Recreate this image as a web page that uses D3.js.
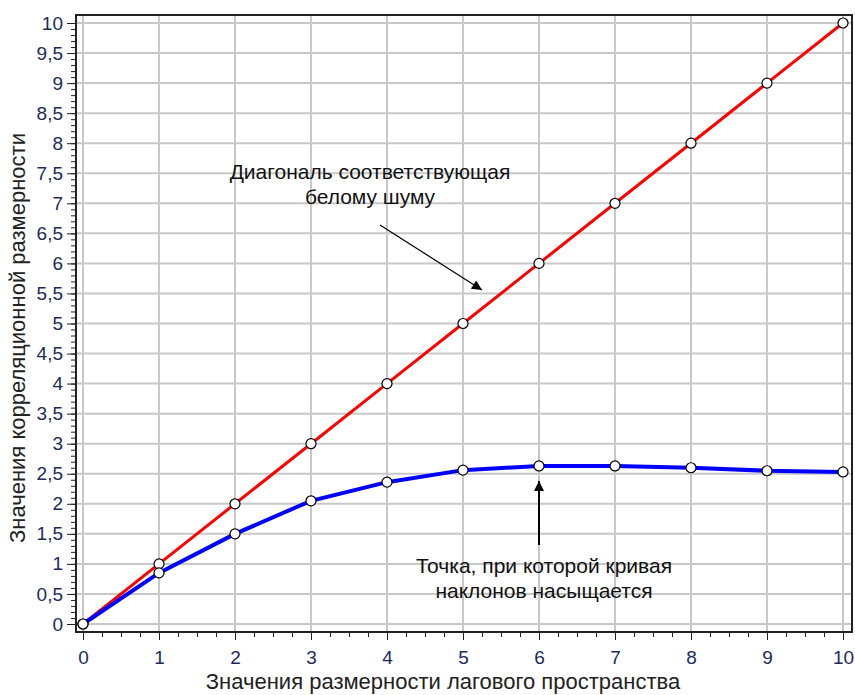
<!DOCTYPE html>
<html>
<head>
<meta charset="utf-8">
<script src="https://cdn.jsdelivr.net/npm/d3@7"></script>
<style>
  body { margin: 0; background: #fff; }
  text { font-family: "Liberation Sans", Arial, sans-serif; }
</style>
</head>
<body>
<div id="graph"></div>
<script>
var lagDims = [0, 1, 2, 3, 4, 5, 6, 7, 8, 9, 10],
  whiteNoise = [0, 1, 2, 3, 4, 5, 6, 7, 8, 9, 10],
  corrDims = [0, 0.85, 1.5, 2.05, 2.36, 2.56, 2.63, 2.63, 2.6, 2.55, 2.53],
  xTicks = [0, 1, 2, 3, 4, 5, 6, 7, 8, 9, 10],
  yTicks = d3.range(0, 10.01, 0.5),
  xTitle = "Значения размерности лагового пространства",
  yTitle = "Значения корреляционной размерности",
  noteDiag = ["Диагональ соответствующая", "белому шуму"],
  noteSat = ["Точка, при которой кривая", "наклонов насыщается"];

var width = 855,
  height = 695,
  frame = { left: 76, top: 15, right: 852, bottom: 632 };

var svg = d3.select("#graph").append("svg")
  .attr("width", width)
  .attr("height", height);

var x = d3.scaleLinear().domain([0, 10]).range([83, 843]),
  y = d3.scaleLinear().domain([0, 10]).range([624, 23]);

var fmt = function(d) { return String(+d.toFixed(1)).replace(".", ","); };

// grid
svg.append("g").selectAll("line").data(xTicks).join("line")
  .attr("x1", x).attr("x2", x)
  .attr("y1", frame.top).attr("y2", frame.bottom)
  .attr("stroke", "#c8c8c8").attr("stroke-width", 2);

svg.append("g").selectAll("line").data(yTicks).join("line")
  .attr("y1", y).attr("y2", y)
  .attr("x1", frame.left).attr("x2", frame.right)
  .attr("stroke", "#c8c8c8").attr("stroke-width", 2);

svg.append("rect")
  .attr("x", frame.left).attr("y", frame.top)
  .attr("width", frame.right - frame.left)
  .attr("height", frame.bottom - frame.top)
  .attr("fill", "none").attr("stroke", "#222").attr("stroke-width", 2);

// axes
var yAxis = d3.axisLeft(y).tickValues(yTicks).tickSize(8).tickPadding(4).tickFormat(fmt);
var yMinor = d3.axisLeft(y).tickValues(d3.range(0, 10.001, 0.1)).tickSize(4).tickFormat("");
var xAxis = d3.axisBottom(x).tickValues(xTicks).tickSize(7).tickPadding(11).tickFormat(fmt);
var xMinor = d3.axisBottom(x).tickValues(d3.range(0, 10.001, 0.25)).tickSize(4).tickFormat("");

function styleAxis(g) {
  g.select(".domain").remove();
  g.selectAll(".tick line").attr("stroke", "#222");
  g.selectAll(".tick text").attr("fill", "#222a5c").attr("font-size", 19);
}

svg.append("g").attr("transform", "translate(" + (frame.left - 1) + ",0)").call(yMinor).call(styleAxis);
svg.append("g").attr("transform", "translate(" + (frame.left - 1) + ",0)").call(yAxis).call(styleAxis);
svg.append("g").attr("transform", "translate(0," + (frame.bottom + 1) + ")").call(xMinor).call(styleAxis);
svg.append("g").attr("transform", "translate(0," + (frame.bottom + 1) + ")").call(xAxis).call(styleAxis);

svg.append("text")
  .attr("x", 443).attr("y", 689)
  .attr("text-anchor", "middle").attr("font-size", 22).attr("fill", "#222")
  .text(xTitle);

svg.append("text")
  .attr("transform", "translate(25,338) rotate(-90)")
  .attr("text-anchor", "middle").attr("font-size", 22).attr("fill", "#222")
  .text(yTitle);

// series
var line = d3.line().x(function(d) { return x(d[0]); }).y(function(d) { return y(d[1]); });
var red = d3.zip(lagDims, whiteNoise),
  blue = d3.zip(lagDims, corrDims);

svg.append("path").datum(red).attr("d", line)
  .attr("fill", "none").attr("stroke", "#ff0000").attr("stroke-width", 3);
svg.append("path").datum(blue).attr("d", line)
  .attr("fill", "none").attr("stroke", "#0000ff").attr("stroke-width", 4);

[red, blue].forEach(function(s) {
  svg.append("g").selectAll("circle").data(s).join("circle")
    .attr("cx", function(d) { return x(d[0]); })
    .attr("cy", function(d) { return y(d[1]); })
    .attr("r", 5)
    .attr("fill", "#fff").attr("stroke", "#000").attr("stroke-width", 1.2);
});

// annotations
svg.append("defs").append("marker")
  .attr("id", "head").attr("viewBox", "0 0 10 10")
  .attr("refX", 10).attr("refY", 5)
  .attr("markerWidth", 12).attr("markerHeight", 10)
  .attr("markerUnits", "userSpaceOnUse")
  .attr("orient", "auto")
  .append("path").attr("d", "M0,0L10,5L0,10z").attr("fill", "#000");

function note(lines, cx, y0) {
  svg.append("g").selectAll("text").data(lines).join("text")
    .attr("x", cx).attr("y", function(d, i) { return y0 + i * 25; })
    .attr("text-anchor", "middle").attr("font-size", 21).attr("fill", "#111")
    .text(function(d) { return d; });
}

note(noteDiag, 370, 179);
note(noteSat, 544, 573);

svg.append("line")
  .attr("x1", 380).attr("y1", 225).attr("x2", 482).attr("y2", 290)
  .attr("stroke", "#000").attr("stroke-width", 1.2).attr("marker-end", "url(#head)");
svg.append("line")
  .attr("x1", x(6)).attr("y1", 545).attr("x2", x(6)).attr("y2", 481)
  .attr("stroke", "#000").attr("stroke-width", 2).attr("marker-end", "url(#head)");
</script>
</body>
</html>
